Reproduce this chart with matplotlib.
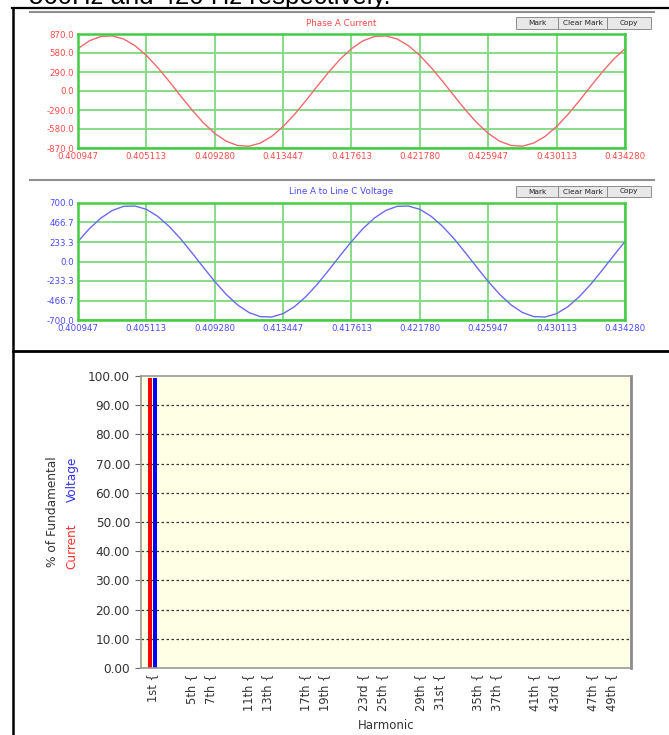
"""
Tela do analisador: formas de onda (corrente / tensao) e espectro harmonico
"""
import matplotlib
matplotlib.use('Agg')
import matplotlib.pyplot as plt
from matplotlib.patches import Rectangle
from matplotlib.lines import Line2D
import numpy as np

W, H = 669, 735

# Janela de tempo (s)
t_ticks = [0.400947, 0.405113, 0.409280, 0.413447, 0.417613,
           0.421780, 0.425947, 0.430113, 0.434280]

corrente_a = [647, 766, 832, 842, 794, 692, 543, 357, 147, -74, -289, -485,
              -647, -766, -832, -843, -795, -692, -543, -357, -147, 74, 289, 485,
              646, 765, 831, 841, 794, 691, 543, 356, 147, -74, -289, -485,
              -647, -766, -831, -842, -794, -692, -543, -357, -147, 74, 289, 485, 646]
tensao_ac = [239, 393, 519, 610, 660, 664, 624, 540, 420, 272, 104, -70,
             -239, -393, -519, -610, -660, -664, -624, -540, -420, -272, -104, 70,
             239, 393, 519, 610, 660, 664, 624, 540, 420, 272, 104, -70,
             -239, -393, -519, -610, -660, -664, -624, -540, -420, -272, -104, 70, 239]

i_ticks = [870.0, 580.0, 290.0, 0.0, -290.0, -580.0, -870.0]
v_ticks = [700.0, 466.7, 233.3, 0.0, -233.3, -466.7, -700.0]

# Espectro harmonico (% da fundamental)
harmonicos = [1, 5, 7, 11, 13, 17, 19, 23, 25, 29, 31, 35, 37, 41, 43, 47, 49]
rotulos_h = ['1st', '5th', '7th', '11th', '13th', '17th', '19th', '23rd', '25th',
             '29th', '31st', '35th', '37th', '41th', '43rd', '47th', '49th']
pct_corrente = [99.4, 0.1, 0.1, 0.1, 0.0, 0.0, 0.0, 0.0, 0.0,
                0.0, 0.0, 0.0, 0.0, 0.0, 0.0, 0.0, 0.0]
pct_tensao = [99.4, 0.1, 0.1, 0.0, 0.0, 0.0, 0.0, 0.0, 0.0,
              0.0, 0.0, 0.0, 0.0, 0.0, 0.0, 0.0, 0.0]


def caixa(x0, y0, x1, y1):
    """Converte pixels (origem no topo) para fracao da figura"""
    return [x0 / W, 1 - y1 / H, (x1 - x0) / W, (y1 - y0) / H]


def linha(fig, x0, y0, x1, y1, cor, lw):
    fig.add_artist(Line2D([x0 / W, x1 / W], [1 - y0 / H, 1 - y1 / H],
                          color=cor, linewidth=lw, transform=fig.transFigure))


def botoes(fig, y0, y1):
    for nome, xa, xb in [('Mark', 516, 558), ('Clear Mark', 558, 607), ('Copy', 607, 651)]:
        fig.add_artist(Rectangle((xa / W, 1 - y1 / H), (xb - xa) / W, (y1 - y0) / H,
                                 facecolor='#e8e8e8', edgecolor='#8c8c8c', linewidth=0.7,
                                 transform=fig.transFigure))
        fig.text((xa + xb) / 2 / W, 1 - (y0 + y1) / 2 / H, nome, ha='center', va='center',
                 fontsize=5.3, color='#222222')


def onda(fig, pos, valores, yticks, cor_linha, cor_texto, titulo, y_titulo):
    ax = fig.add_axes(caixa(*pos))
    t = np.linspace(t_ticks[0], t_ticks[-1], len(valores))
    ax.plot(t, valores, color=cor_linha, linewidth=1.0)
    ax.set_xlim(t_ticks[0], t_ticks[-1])
    ax.set_ylim(yticks[-1], yticks[0])
    ax.set_xticks(t_ticks)
    ax.set_xticklabels([f'{v:.6f}' for v in t_ticks])
    ax.set_yticks(yticks)
    ax.set_yticklabels([f'{v:.1f}' for v in yticks])
    ax.tick_params(length=0, labelsize=6.2, colors=cor_texto, pad=3)
    ax.grid(True, color='#86dc86', linewidth=1.4)
    for s in ax.spines.values():
        s.set_color('#44cc44')
        s.set_linewidth(1.8)
    fig.text(341 / W, 1 - y_titulo / H, titulo, ha='center', va='center',
             fontsize=6.3, color=cor_texto)
    return ax


fig = plt.figure(figsize=(W / 100, H / 100), dpi=100)

# Texto cortado do documento (a tela original ja o mostra cortado) e bordas da tabela
fig.text(29 / W, 1 - 4 / H, '560Hz and 420 Hz respectively.', fontsize=18.5,
         family='Liberation Sans', va='baseline', color='black')
linha(fig, 12, 8, 669, 8, 'black', 1.6)
linha(fig, 13, 8, 13, 735, 'black', 1.8)
linha(fig, 13, 351, 669, 351, 'black', 2.0)
linha(fig, 30, 12, 654, 12, '#8f8f8f', 1.5)
linha(fig, 30, 180, 654, 180, '#8f8f8f', 1.5)

onda(fig, (78, 34, 625, 148), corrente_a, i_ticks, '#f06a6a', '#ff4a4a',
     'Phase A Current', 23)
botoes(fig, 17, 29)
onda(fig, (78, 203, 625, 320), tensao_ac, v_ticks, '#6a6af0', '#4a4aff',
     'Line A to Line C Voltage', 192)
botoes(fig, 186, 197)

# Espectro harmonico
ax = fig.add_axes(caixa(141, 376, 631, 668))
ax.set_facecolor('#ffffe6')
h = np.array(harmonicos)
ax.bar(h - 0.28, pct_corrente, width=0.42, color='#ff0000', linewidth=0)
ax.bar(h + 0.22, pct_tensao, width=0.42, color='#0000ff', linewidth=0)
ax.set_xlim(-0.25, 51.05)
ax.set_ylim(0, 100)
ax.set_yticks(np.arange(0, 101, 10))
ax.set_yticklabels([f'{v:.2f}' for v in np.arange(0, 101, 10)])
ax.set_xticks(harmonicos)
ax.set_xticklabels([r + ' {' for r in rotulos_h], rotation=90, va='top')
ax.tick_params(axis='y', length=4, color='#666666', labelsize=8.7,
               labelcolor='#333333', pad=4)
ax.tick_params(axis='x', length=0, labelsize=8.3, labelcolor='#333333', pad=4)
for y in range(10, 100, 10):
    ax.axhline(y, color='#333333', linewidth=0.9, linestyle=(0, (2, 2)))
for s in ax.spines.values():
    s.set_color('#999999')
    s.set_linewidth(1.2)
ax.spines['right'].set_color('#8a8a8a')
ax.spines['right'].set_linewidth(2)
ax.set_xlabel('Harmonic', fontsize=8.5, color='#333333', labelpad=6)

fig.text(53 / W, 1 - 512 / H, '% of Fundamental', rotation=90, ha='center',
         va='center', fontsize=8.7, color='#333333')
fig.text(72 / W, 1 - 546 / H, 'Current', rotation=90, ha='center', va='center',
         fontsize=8.7, color='#ff3333')
fig.text(72 / W, 1 - 479 / H, 'Voltage', rotation=90, ha='center', va='center',
         fontsize=8.7, color='#3333ff')

fig.savefig('out.png', dpi=100)
plt.close(fig)
